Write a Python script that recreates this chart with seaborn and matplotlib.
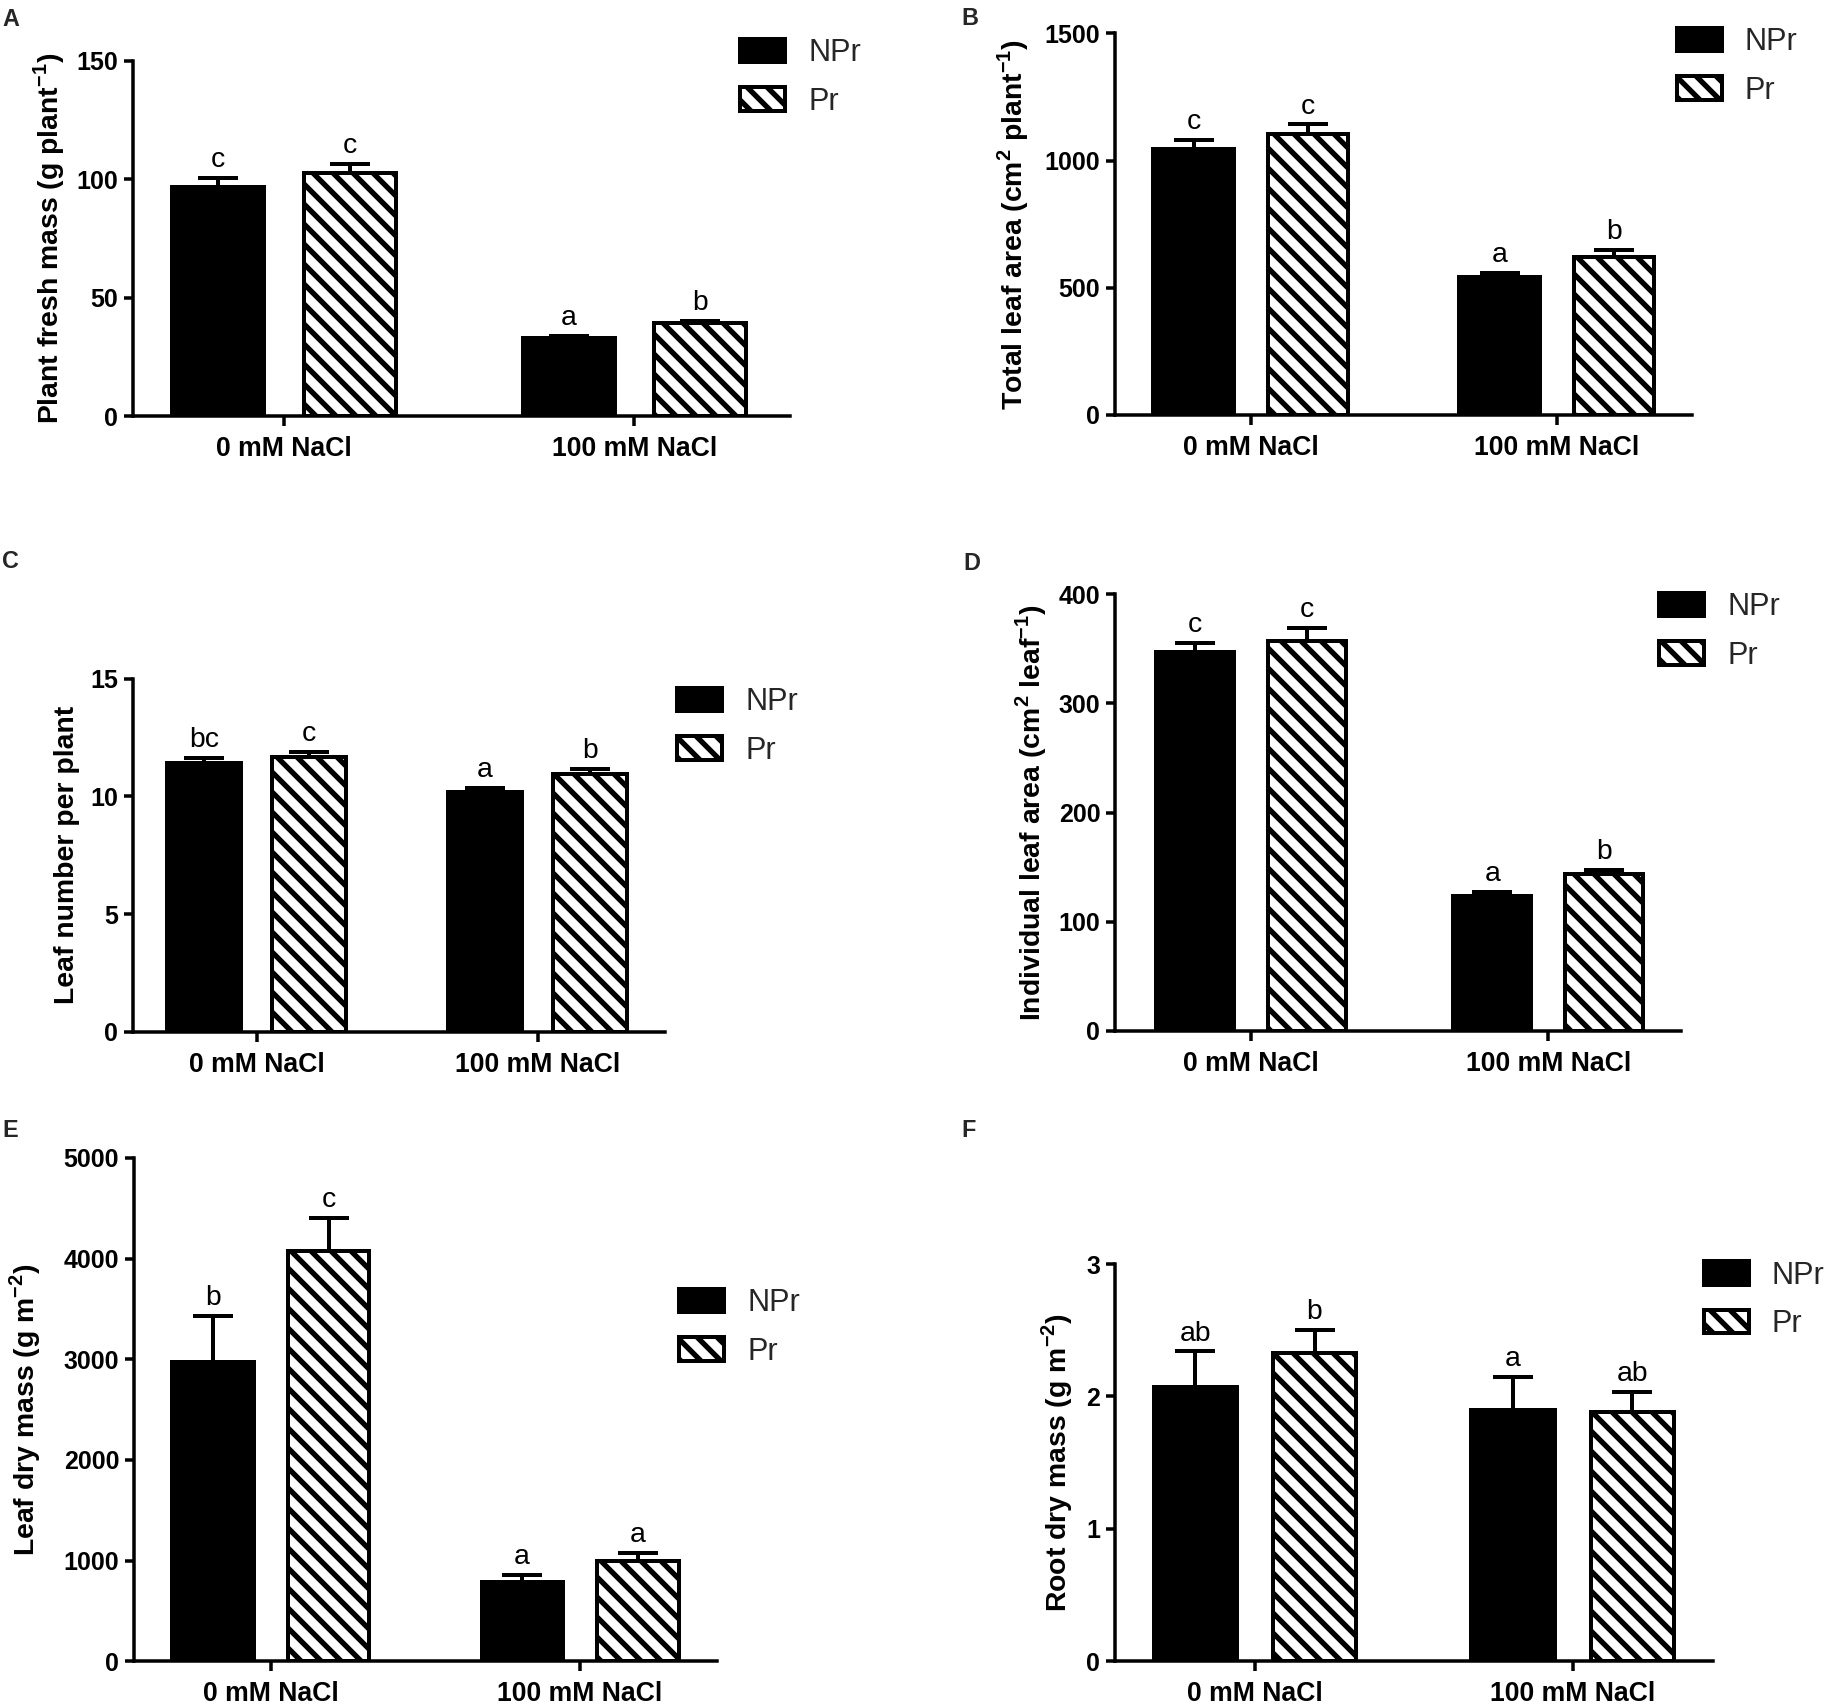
import pandas as pd
import seaborn as sns
import matplotlib.pyplot as plt
from matplotlib.patches import Patch

# categories
salt = ['0 mM NaCl', '100 mM NaCl']
groups = ['NPr', 'Pr']

# A - plant fresh mass
fresh_npr = [96.6, 32.8]
fresh_pr = [102.5, 39.2]
fresh_npr_err = [4.0, 1.2]
fresh_pr_err = [4.0, 1.0]
fresh_npr_let = ['c', 'a']
fresh_pr_let = ['c', 'b']

# B - total leaf area
area_npr = [1045, 541]
area_pr = [1103, 622]
area_npr_err = [35, 18]
area_pr_err = [39, 26]
area_npr_let = ['c', 'a']
area_pr_let = ['c', 'b']

# C - leaf number
num_npr = [11.44, 10.17]
num_pr = [11.69, 10.97]
num_npr_err = [0.20, 0.19]
num_pr_err = [0.19, 0.20]
num_npr_let = ['bc', 'a']
num_pr_let = ['c', 'b']

# D - individual leaf area
ind_npr = [346.9, 123.4]
ind_pr = [357.6, 143.7]
ind_npr_err = [9.0, 3.5]
ind_pr_err = [12.0, 4.0]
ind_npr_let = ['c', 'a']
ind_pr_let = ['c', 'b']

# E - leaf dry mass
ldm_npr = [2977, 785]
ldm_pr = [4080, 996]
ldm_npr_err = [453, 77]
ldm_pr_err = [320, 77]
ldm_npr_let = ['b', 'a']
ldm_pr_let = ['c', 'a']

# F - root dry mass
rdm_npr = [2.07, 1.90]
rdm_pr = [2.33, 1.885]
rdm_npr_err = [0.27, 0.245]
rdm_pr_err = [0.17, 0.15]
rdm_npr_let = ['ab', 'a']
rdm_pr_let = ['b', 'ab']

panels = [
    ('A', 'Plant fresh mass (g plant$^{\\mathbf{-1}}$)', [0, 50, 100, 150],
     fresh_npr, fresh_pr, fresh_npr_err, fresh_pr_err, fresh_npr_let, fresh_pr_let),
    ('B', 'Total leaf area (cm$^{\\mathbf{2}}$ plant$^{\\mathbf{-1}}$)', [0, 500, 1000, 1500],
     area_npr, area_pr, area_npr_err, area_pr_err, area_npr_let, area_pr_let),
    ('C', 'Leaf number per plant', [0, 5, 10, 15],
     num_npr, num_pr, num_npr_err, num_pr_err, num_npr_let, num_pr_let),
    ('D', 'Individual leaf area (cm$^{\\mathbf{2}}$ leaf$^{\\mathbf{-1}}$)', [0, 100, 200, 300, 400],
     ind_npr, ind_pr, ind_npr_err, ind_pr_err, ind_npr_let, ind_pr_let),
    ('E', 'Leaf dry mass (g m$^{\\mathbf{-2}}$)', [0, 1000, 2000, 3000, 4000, 5000],
     ldm_npr, ldm_pr, ldm_npr_err, ldm_pr_err, ldm_npr_let, ldm_pr_let),
    ('F', 'Root dry mass (g m$^{\\mathbf{-2}}$)', [0, 1, 2, 3],
     rdm_npr, rdm_pr, rdm_npr_err, rdm_pr_err, rdm_npr_let, rdm_pr_let),
]

# layout in pixels: axes box (left, top, right, bottom), xlim, ylabel x, legend (left, mid y), tag (x, y)
W, H, DPI = 1828, 1705, 120
layout = {
    'A': ((132.9, 61, 789.9, 416), (-0.431, 1.444), 49.5, (740, 77.5), (2, 8)),
    'B': ((1115.1, 33.3, 1692.2, 415), (-0.444, 1.442), 1013, (1676.5, 66.5), (961, 7)),
    'C': ((132.9, 678.8, 664.5, 1031.7), (-0.44, 1.452), 67, (677.4, 726.5), (2, 550)),
    'D': ((1115.1, 594.4, 1680.5, 1030.7), (-0.457, 1.445), 1030.6, (1659, 631.5), (963, 552)),
    'E': ((134, 1157.9, 717, 1661.3), (-0.443, 1.443), 25, (679, 1327.5), (2, 1119)),
    'F': ((1115.1, 1264, 1712.6, 1661.3), (-0.44, 1.44), 1056.8, (1703.9, 1300), (961, 1119)),
}

sns.set_theme(style='ticks')
plt.rcParams['font.family'] = ['Liberation Sans', 'DejaVu Sans']
plt.rcParams['mathtext.fontset'] = 'custom'
plt.rcParams['mathtext.rm'] = 'Liberation Sans'
plt.rcParams['mathtext.bf'] = 'Liberation Sans:bold'
plt.rcParams['hatch.linewidth'] = 3.2
plt.rcParams['hatch.color'] = 'black'

fig = plt.figure(figsize=(W / DPI, H / DPI), dpi=DPI)

for tag, ylabel, yticks, npr, pr, npr_err, pr_err, npr_let, pr_let in panels:
    (l, t, r, b), xlim, ylab_x, (leg_x, leg_y), (tx, ty) = layout[tag]
    ax = fig.add_axes([l / W, 1 - b / H, (r - l) / W, (b - t) / H])

    df = pd.DataFrame({
        'salt': salt * 2,
        'group': [groups[0]] * 2 + [groups[1]] * 2,
        'value': list(npr) + list(pr),
    })
    info = {}
    for i, s in enumerate(salt):
        info[('NPr', i)] = (npr[i], npr_err[i], npr_let[i])
        info[('Pr', i)] = (pr[i], pr_err[i], pr_let[i])

    sns.barplot(data=df, x='salt', y='value', hue='group', order=salt, hue_order=groups,
                palette={'NPr': 'black', 'Pr': 'white'}, edgecolor='black', linewidth=2.4,
                width=0.75, gap=0.3, errorbar=None, legend=False, ax=ax)

    for p in ax.patches:
        xc = p.get_x() + p.get_width() / 2
        is_pr = p.get_facecolor()[0] > 0.5
        if is_pr:
            p.set_hatch('\\\\')
        g = 'Pr' if is_pr else 'NPr'
        val, err, let = info[(g, int(round(xc)))]
        ax.errorbar([xc], [val], yerr=[[0], [err]], fmt='none', ecolor='black',
                    elinewidth=2.4, capsize=12, capthick=2.4, zorder=0.9)
        ax.annotate(let, (xc, val + err), xytext=(0, 6.5), textcoords='offset points',
                    ha='center', va='baseline', fontsize=17, color='black')

    ax.set_xlim(*xlim)
    ax.set_ylim(yticks[0], yticks[-1])
    ax.set_yticks(yticks)
    ax.set_xlabel('')
    ax.set_ylabel(ylabel, fontsize=17, fontweight='bold', color='black')
    ax.yaxis.label.set_va('center')
    ax.yaxis.set_label_coords(ylab_x / W, 1 - (t + b) / 2 / H, transform=fig.transFigure)

    sns.despine(ax=ax)
    for side in ['left', 'bottom']:
        ax.spines[side].set_linewidth(2.1)
        ax.spines[side].set_color('black')
    ax.tick_params(axis='y', length=5.4, width=2.1, pad=3.5, labelsize=15, colors='black')
    ax.tick_params(axis='x', length=6, width=2.1, pad=6, labelsize=16, colors='black')
    for lab in ax.get_xticklabels() + ax.get_yticklabels():
        lab.set_fontweight('bold')

    handles = [Patch(facecolor='black', edgecolor='black', linewidth=2.4, label='NPr'),
               Patch(facecolor='white', edgecolor='black', linewidth=2.4, hatch='\\\\', label='Pr')]
    ax.legend(handles=handles, loc='center left', bbox_to_anchor=(leg_x / W, 1 - leg_y / H),
              bbox_transform=fig.transFigure, frameon=False, fontsize=18.4,
              handlelength=1.47, handleheight=0.81, handletextpad=0.75, labelspacing=0.6,
              borderpad=0, borderaxespad=0)

    fig.text(tx / W, 1 - ty / H, tag, fontsize=14, fontweight='bold', ha='left', va='top')

fig.savefig('out.png', dpi=DPI)
